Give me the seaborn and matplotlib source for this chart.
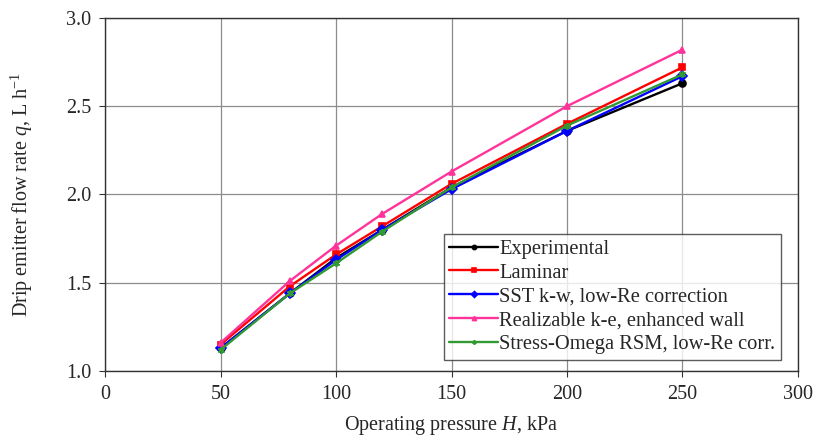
# coding: utf-8
"""
Débit des goutteurs en fonction de la pression de fonctionnement
(comparaison expérience / modèles de turbulence)
"""
import pandas as pd
from matplotlib import pyplot as plt
import seaborn as sns

# Données
pressure = [50, 80, 100, 120, 150, 200, 250]
experimental = [1.13, 1.44, 1.64, 1.80, 2.04, 2.36, 2.63]
laminar = [1.15, 1.48, 1.66, 1.82, 2.06, 2.40, 2.72]
sst_kw = [1.13, 1.44, 1.63, 1.80, 2.03, 2.36, 2.67]
realizable_ke = [1.16, 1.51, 1.71, 1.89, 2.13, 2.50, 2.82]
stress_omega = [1.12, 1.44, 1.61, 1.79, 2.04, 2.39, 2.68]

models = ['Experimental', 'Laminar', 'SST k-w, low-Re correction',
          'Realizable k-e, enhanced wall', 'Stress-Omega RSM, low-Re corr.']
series = [experimental, laminar, sst_kw, realizable_ke, stress_omega]
colors = ['black', '#FF0000', '#0000FF', '#FF3399', '#339933']
markers = ['o', 's', 'D', '^', (6, 2, 0)]

sns.set_style('ticks')
plt.rcParams['font.family'] = ['Liberation Serif', 'DejaVu Serif']
plt.rcParams['mathtext.fontset'] = 'custom'
plt.rcParams['mathtext.rm'] = 'Liberation Serif'
plt.rcParams['mathtext.it'] = 'Liberation Serif:italic'

fig = plt.figure(figsize=(8.15, 4.37), dpi=100)
ax = fig.add_axes([0.129, 0.151, 0.850, 0.808])

for name, vals, col, mk in zip(models, series, colors, markers):
    df = pd.DataFrame({'H': pressure, 'q': vals})
    sns.lineplot(data=df, x='H', y='q', color=col, marker=mk, label=name,
                 markersize=5, linewidth=1.7, markeredgewidth=1.2,
                 markeredgecolor=col, ax=ax)

ax.set_xlim(0, 300)
ax.set_ylim(1.0, 3.0)
ax.set_xticks(range(0, 301, 50))
ax.set_yticks([1.0, 1.5, 2.0, 2.5, 3.0])
ax.set_yticklabels(['1.0', '1.5', '2.0', '2.5', '3.0'])
ax.grid(True, color='#8c8c8c', linewidth=0.9)
ax.tick_params(labelsize=14.5, direction='out', length=4, color='#333333', pad=6)
for s in ax.spines.values():
    s.set_color('#333333')
    s.set_linewidth(1.0)

ax.set_xlabel('Operating pressure $H$, kPa', fontsize=14.5, labelpad=7)
ax.set_ylabel('Drip emitter flow rate $q$, L h$^{-1}$', fontsize=14.5, labelpad=22)

leg = ax.legend(loc='lower right', bbox_to_anchor=(0.984, 0.015), fontsize=14.8,
                frameon=True, fancybox=False, edgecolor='#333333',
                handlelength=2.4, handletextpad=0.05, labelspacing=0.22,
                borderpad=0.25, borderaxespad=0.3)
leg.get_frame().set_linewidth(1.0)
for line in leg.get_lines():
    line.set_markersize(3)

fig.savefig('out.png', dpi=100)
plt.close()
